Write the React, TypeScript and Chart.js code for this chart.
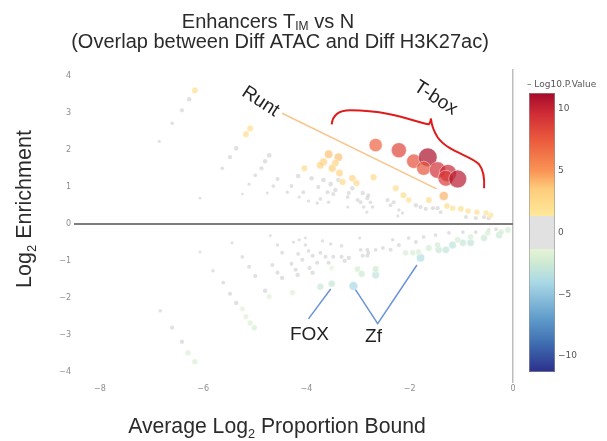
import React, { useEffect, useRef } from "react";
import { Chart, registerables } from "chart.js";

Chart.register(...registerables);

// [average log2 proportion bound, log2 enrichment, signed -log10 p-value]
const enrichedMotifs: [number, number, number][] = [
  [-6.16, 3.62, 2.2], [-6.27, 3.38, 1.0], [-6.41, 3.08, 0.9], [-6.60, 2.73, 0.6], [-6.85, 2.24, 0.3],
  [-5.09, 2.59, 2.3], [-5.17, 2.43, 2.3], [-5.36, 2.05, 1.1], [-5.48, 1.81, 0.9], [-5.63, 1.51, 0.6],
  [-6.06, 0.70, 0.1], [-4.72, 1.86, 1.1], [-4.80, 1.70, 1.0], [-4.87, 1.51, 0.9], [-4.99, 1.32, 0.6],
  [-5.11, 1.08, 0.3], [-5.24, 0.81, 0.1], [-4.56, 1.22, 0.8], [-4.64, 1.03, 0.6], [-4.76, 0.84, 0.3],
  [-4.04, 1.51, 2.3], [-4.16, 1.30, 1.1], [-4.29, 1.03, 0.7], [-4.37, 0.86, 0.4], [-3.90, 1.24, 1.1],
  [-4.06, 0.86, 0.7], [-4.14, 0.73, 0.4], [-3.96, 0.62, 0.4], [-3.79, 0.57, 0.5], [-3.67, 1.19, 1.2],
  [-3.77, 1.00, 0.9], [-3.73, 0.68, 0.6], [-3.59, 0.86, 0.9], [-3.53, 1.08, 1.1], [-3.57, 0.59, 0.5],
  [-3.44, 0.92, 1.0], [-3.48, 0.81, 0.8], [-3.38, 1.19, 1.1],
  [-3.57, 1.89, 3.8], [-3.38, 1.81, 3.8], [-3.67, 1.68, 3.3], [-3.44, 1.65, 3.0], [-3.73, 1.59, 3.1],
  [-3.50, 1.51, 3.3], [-3.36, 1.38, 3.0], [-3.30, 1.14, 2.5], [-3.11, 1.24, 2.8], [-3.03, 1.11, 2.5],
  [-3.18, 0.84, 0.9], [-3.20, 0.73, 0.7], [-3.11, 0.97, 1.0], [-3.01, 0.65, 0.8], [-2.91, 0.84, 1.0],
  [-2.95, 0.59, 0.7], [-2.82, 0.70, 0.9], [-3.20, 0.46, 0.3], [-2.89, 0.46, 0.5], [-2.83, 0.32, 0.3],
  [-2.80, 0.78, 0.8], [-2.76, 0.59, 0.6], [-2.72, 0.46, 0.4], [-2.43, 0.65, 0.9], [-2.31, 0.59, 0.8],
  [-2.37, 0.51, 0.6], [-1.88, 0.51, 1.0], [-1.79, 0.46, 0.9], [-1.69, 0.41, 0.8], [-1.55, 0.43, 0.9],
  [-1.46, 0.43, 0.9], [-1.40, 0.32, 0.7], [-2.21, 0.38, 0.5], [-2.14, 0.30, 0.4], [-2.23, 0.22, 0.3],
  [-0.91, 0.19, 0.8], [-0.72, 0.16, 0.9], [-0.56, 0.19, 0.9], [-0.47, 0.16, 1.0],
  [-2.70, 1.27, 2.5], [-2.27, 0.97, 2.3], [-2.12, 0.78, 2.3], [-2.02, 0.65, 2.0], [-1.63, 0.65, 2.3],
  [-1.34, 0.76, 4.2], [-1.28, 0.49, 2.2], [-1.17, 0.43, 2.0], [-1.01, 0.41, 2.2], [-0.87, 0.35, 2.0],
  [-0.70, 0.32, 2.0], [-0.52, 0.30, 1.9], [-0.43, 0.24, 1.8],
  [-2.66, 2.14, 7.2], [-2.21, 2.00, 8.5], [-1.92, 1.70, 8.0], [-1.65, 1.81, 11.0], [-1.73, 1.51, 7.8],
  [-1.46, 1.46, 9.5], [-1.26, 1.38, 10.0], [-1.30, 1.24, 9.0], [-1.07, 1.22, 10.5],
];

const depletedMotifs: [number, number, number][] = [
  [-6.83, -2.35, 0.6], [-6.60, -2.81, 0.9], [-6.41, -3.19, 1.0], [-6.29, -3.49, -1.8], [-6.16, -3.73, -1.9],
  [-6.06, -0.76, 0.3], [-5.81, -1.27, 0.5], [-5.61, -1.59, 0.7], [-5.48, -1.89, 0.9], [-5.36, -2.14, 1.1],
  [-5.24, -2.30, -1.6], [-5.17, -2.51, -1.7], [-5.09, -2.68, -1.8], [-5.01, -2.81, -2.0], [-5.44, -0.51, 0.3],
  [-5.24, -0.89, 0.6], [-5.11, -1.16, 0.8], [-4.99, -1.41, 0.9], [-4.80, -1.81, 1.1], [-4.72, -1.97, -1.6],
  [-4.70, -0.32, 0.2], [-4.56, -0.57, 0.5], [-4.47, -0.78, 0.7], [-4.66, -1.11, 0.8], [-4.56, -1.32, 0.9],
  [-4.47, -1.46, 1.0], [-4.25, -0.49, 0.4], [-4.16, -0.81, 0.7], [-4.08, -0.97, 0.8], [-4.29, -1.08, 0.8],
  [-4.21, -1.24, 0.9], [-4.17, -1.38, 1.0], [-4.27, -1.86, -1.7], [-4.14, -0.43, 0.3], [-4.02, -0.57, 0.5],
  [-3.96, -0.73, 0.6], [-3.88, -0.86, 0.8], [-3.94, -1.19, 0.9], [-3.88, -1.32, 1.0], [-3.79, -1.05, 0.9],
  [-3.73, -0.78, 0.7], [-3.63, -0.89, 0.8], [-3.57, -1.05, 0.9], [-3.51, -1.19, -1.4], [-3.69, -0.46, 0.4],
  [-3.53, -0.54, 0.5], [-3.32, -0.59, 0.6], [-3.48, -0.89, 0.8], [-3.32, -0.89, 0.8], [-3.26, -1.00, 0.9],
  [-3.18, -0.92, 0.9], [-2.97, -0.38, 0.3], [-4.02, -0.38, 0.2],
  [-2.91, -0.86, 0.8], [-2.82, -0.86, 0.8], [-2.95, -0.70, 0.7], [-2.82, -0.70, 0.7],
  [-2.80, -0.78, 0.7], [-2.66, -0.70, 0.6], [-2.52, -0.65, 0.7], [-2.37, -0.70, 0.8], [-2.21, -0.57, 0.8],
  [-2.33, -0.43, 0.5], [-2.02, -0.38, 0.6], [-1.88, -0.49, 0.8], [-1.73, -0.35, 0.6], [-1.50, -0.30, 0.6],
  [-1.24, -0.24, 0.6], [-0.97, -0.22, 0.6], [-0.72, -0.22, 0.7], [-0.47, -0.16, 0.6], [-0.33, -0.14, 0.6],
  [-3.73, -1.70, -2.6], [-3.51, -1.62, -2.8], [-3.09, -1.68, -4.0], [-3.01, -1.22, -2.2], [-2.93, -1.35, -2.6],
  [-2.66, -1.38, -3.2], [-2.66, -1.22, -2.5], [-1.79, -0.92, -3.6], [-2.08, -0.78, -2.0], [-1.94, -0.78, -2.0],
  [-1.83, -0.76, -2.0], [-1.63, -0.65, -2.3], [-1.44, -0.70, -2.8], [-1.30, -0.70, -3.0], [-1.17, -0.57, -3.2],
  [-0.97, -0.51, -2.8], [-0.82, -0.51, -3.0], [-0.56, -0.38, -2.6], [-0.27, -0.30, -2.8], [-0.10, -0.16, -2.2],
  [-1.46, -0.57, -2.2], [-1.07, -0.43, -2.2], [-0.82, -0.35, -2.0], [-0.49, -0.24, -2.0], [-0.23, -0.22, -2.1],
];

const colorbarTicks = [10, 5, 0, -5, -10];
const colorbarRange = [-11.3, 11.3];
const significanceBand = 1.3;

// annotation anchors, in data units
const runtLabel = [-4.89, 3.32];
const runtLine = [[-4.47, 3.0], [-1.48, 0.95]];
const tboxLabel = [-1.5, 3.41];
const braceLeft = [[-3.51, 2.70], [-3.48, 3.08], [-3.15, 3.08], [-2.37, 3.08], [-1.88, 2.76], [-1.63, 2.70], [-1.59, 2.76], [-1.59, 2.86]];
const braceRight = [[-1.59, 2.86], [-1.57, 2.59], [-1.46, 2.35], [-1.26, 1.95], [-0.82, 1.86], [-0.66, 1.62], [-0.54, 1.41], [-0.56, 0.97]];
const foxLabel = [-3.94, -3.0];
const foxLine = [[-3.96, -2.57], [-3.53, -1.76]];
const zfLabel = [-2.70, -3.05];
const zfLines = [[-3.05, -1.78], [-2.62, -2.70], [-1.86, -1.11]];

const posStops: [number, string][] = [[1.3, "#fee99b"], [3.5, "#fdcd7c"], [5, "#f99455"], [7.5, "#ea5a3d"], [9.5, "#d22f36"], [11.3, "#a50a2a"]];
const negStops: [number, string][] = [[1.3, "#e6f4d6"], [2.5, "#cde9d2"], [4, "#abd9e6"], [5, "#92c4dd"], [7, "#5f9bcb"], [9, "#3f6db0"], [11.3, "#2c2f8c"]];

function hexRgb(h: string) {
  return [parseInt(h.slice(1, 3), 16), parseInt(h.slice(3, 5), 16), parseInt(h.slice(5, 7), 16)];
}
function interp(stops: [number, string][], v: number) {
  if (v <= stops[0][0]) return hexRgb(stops[0][1]);
  for (let i = 1; i < stops.length; i++) {
    if (v <= stops[i][0]) {
      const a = hexRgb(stops[i - 1][1]);
      const b = hexRgb(stops[i][1]);
      const t = (v - stops[i - 1][0]) / (stops[i][0] - stops[i - 1][0]);
      return a.map((c, k) => Math.round(c + (b[k] - c) * t));
    }
  }
  return hexRgb(stops[stops.length - 1][1]);
}
function pColor(p: number, alpha: number) {
  if (Math.abs(p) < significanceBand) return `rgba(185,185,185,${alpha * 0.62})`;
  const c = p > 0 ? interp(posStops, p) : interp(negStops, -p);
  return `rgba(${c[0]},${c[1]},${c[2]},${alpha})`;
}
function barColor(v: number) {
  if (Math.abs(v) < significanceBand) return "#e1e1e1";
  const c = v > 0 ? interp(posStops, v) : interp(negStops, -v);
  return `rgb(${c[0]},${c[1]},${c[2]})`;
}
const radiusFor = (p: number) => (Math.abs(p) < significanceBand ? 1.3 + 0.9 * Math.abs(p) : 1.6 + 0.7 * Math.abs(p));

const SANS = '"Liberation Sans", Arial, sans-serif';
const SMALL = '"DejaVu Sans", Verdana, sans-serif';

function drawRich(ctx: CanvasRenderingContext2D, parts: [string, number][], x: number, y: number, size: number, align: "left" | "center") {
  const widths: number[] = [];
  let total = 0;
  parts.forEach(([t, sub]) => {
    ctx.font = `${sub ? size * 0.6 : size}px ${SANS}`;
    const w = ctx.measureText(t).width;
    widths.push(w);
    total += w;
  });
  let cx = align === "center" ? x - total / 2 : x;
  ctx.textAlign = "left";
  ctx.textBaseline = "alphabetic";
  parts.forEach(([t, sub], i) => {
    ctx.font = `${sub ? size * 0.6 : size}px ${SANS}`;
    ctx.fillText(t, cx, y + sub * size);
    cx += widths[i];
  });
}

const overlay = {
  id: "overlay",
  afterDatasetsDraw(chart: any) {
    const ctx: CanvasRenderingContext2D = chart.ctx;
    const xs = chart.scales.x;
    const ys = chart.scales.y;
    const P = (pt: number[]) => [xs.getPixelForValue(pt[0]), ys.getPixelForValue(pt[1])];
    ctx.save();
    const [r1, r2] = runtLine.map(P);
    ctx.strokeStyle = "#f8c68c";
    ctx.lineWidth = 1.5;
    ctx.beginPath();
    ctx.moveTo(r1[0], r1[1]);
    ctx.lineTo(r2[0], r2[1]);
    ctx.stroke();
    ctx.fillStyle = "#222";
    const rotText = (t: string, pt: number[], deg: number) => {
      const [px, py] = P(pt);
      ctx.save();
      ctx.translate(px, py);
      ctx.rotate((deg * Math.PI) / 180);
      ctx.font = `19px ${SANS}`;
      ctx.textAlign = "center";
      ctx.textBaseline = "middle";
      ctx.fillText(t, 0, 0);
      ctx.restore();
    };
    rotText("Runt", runtLabel, 33);
    rotText("T-box", tboxLabel, 33);
    ctx.strokeStyle = "#e01b1b";
    ctx.lineWidth = 2;
    const L = braceLeft.map(P);
    const R = braceRight.map(P);
    ctx.beginPath();
    ctx.moveTo(L[0][0], L[0][1]);
    ctx.quadraticCurveTo(L[1][0], L[1][1], L[2][0], L[2][1]);
    ctx.bezierCurveTo(L[3][0], L[3][1], L[4][0], L[4][1], L[5][0], L[5][1]);
    ctx.quadraticCurveTo(L[6][0], L[6][1], L[7][0], L[7][1]);
    ctx.quadraticCurveTo(R[1][0], R[1][1], R[2][0], R[2][1]);
    ctx.bezierCurveTo(R[3][0], R[3][1], R[4][0], R[4][1], R[5][0], R[5][1]);
    ctx.quadraticCurveTo(R[6][0], R[6][1], R[7][0], R[7][1]);
    ctx.stroke();
    ctx.strokeStyle = "#6a93dc";
    ctx.lineWidth = 1.5;
    const f = foxLine.map(P);
    ctx.beginPath();
    ctx.moveTo(f[0][0], f[0][1]);
    ctx.lineTo(f[1][0], f[1][1]);
    ctx.stroke();
    const z = zfLines.map(P);
    ctx.beginPath();
    ctx.moveTo(z[0][0], z[0][1]);
    ctx.lineTo(z[1][0], z[1][1]);
    ctx.lineTo(z[2][0], z[2][1]);
    ctx.stroke();
    ctx.font = `19px ${SANS}`;
    ctx.textAlign = "center";
    ctx.textBaseline = "middle";
    ctx.fillStyle = "#222";
    const fl = P(foxLabel);
    ctx.fillText("FOX", fl[0], fl[1]);
    const zl = P(zfLabel);
    ctx.fillText("Zf", zl[0], zl[1]);
    ctx.restore();
  },
  afterDraw(chart: any) {
    const ctx: CanvasRenderingContext2D = chart.ctx;
    ctx.save();
    ctx.fillStyle = "#2b2b2b";
    drawRich(ctx, [["Enhancers T", 0], ["IM", 0.12], [" vs N", 0]], 268, 28, 20, "center");
    drawRich(ctx, [["(Overlap between Diff ATAC and Diff H3K27ac)", 0]], 280, 48, 20, "center");
    drawRich(ctx, [["Average Log", 0], ["2", 0.22], [" Proportion Bound", 0]], 277, 433, 21.2, "center");
    ctx.save();
    ctx.translate(24, 209);
    ctx.rotate(-Math.PI / 2);
    drawRich(ctx, [["Log", 0], ["2", 0.22], [" Enrichment", 0]], 0, 7, 21.5, "center");
    ctx.restore();

    const top = 93, bottom = 372, left = 529, right = 555;
    const [vMin, vMax] = colorbarRange;
    for (let py = top; py < bottom; py++) {
      const v = vMax - ((py - top + 0.5) / (bottom - top)) * (vMax - vMin);
      ctx.fillStyle = barColor(v);
      ctx.fillRect(left, py, right - left, 1);
    }
    ctx.strokeStyle = "rgba(150,150,150,0.6)";
    ctx.lineWidth = 1;
    ctx.strokeRect(left + 0.5, top + 0.5, right - left - 1, bottom - top - 1);
    ctx.fillStyle = "#555";
    ctx.font = `9px ${SMALL}`;
    ctx.textAlign = "left";
    ctx.textBaseline = "middle";
    colorbarTicks.forEach((v) => {
      const py = top + ((vMax - v) / (vMax - vMin)) * (bottom - top);
      ctx.fillText(v < 0 ? "\u2212" + Math.abs(v) : String(v), right + 3, py);
    });
    ctx.fillText("\u2013 Log10.P.Value", 527, 85);
    ctx.restore();
  },
};

const minusFmt = (v: number | string) => {
  const n = Number(v);
  return n < 0 ? "\u2212" + Math.abs(n) : String(n);
};

export default function App() {
  const ref = useRef<HTMLCanvasElement>(null);
  useEffect(() => {
    if (!ref.current) return;
    const mk = (rows: [number, number, number][]) => ({
      data: rows.map((r) => ({ x: r[0], y: r[1] })),
      pointRadius: (c: any) => radiusFor(rows[c.dataIndex][2]),
      backgroundColor: (c: any) => pColor(rows[c.dataIndex][2], 0.7),
      borderColor: (c: any) => (Math.abs(rows[c.dataIndex][2]) < significanceBand ? "rgba(0,0,0,0)" : "rgba(255,255,255,0.45)"),
      borderWidth: 1,
    });
    const chart = new Chart(ref.current, {
      type: "scatter",
      data: { datasets: [mk(depletedMotifs), mk(enrichedMotifs)] as any },
      options: {
        animation: false,
        responsive: false,
        maintainAspectRatio: false,
        devicePixelRatio: 1,
        layout: { padding: { top: 69, right: 94, bottom: 0, left: 0 } },
        plugins: { legend: { display: false }, tooltip: { enabled: false }, title: { display: false } },
        scales: {
          x: {
            type: "linear",
            min: -8.5,
            max: 0,
            ticks: { stepSize: 2, includeBounds: false, color: "#8c8c8c", font: { family: SMALL, size: 8 }, padding: 1, callback: minusFmt },
            grid: {
              color: (c: any) => (c.tick && c.tick.value === 0 ? "#bdbdbd" : "rgba(0,0,0,0)"),
              lineWidth: 1.5,
              tickLength: 4,
            },
            border: { display: false },
            afterFit: (s: any) => { s.height = 62; },
          },
          y: {
            type: "linear",
            min: -4.2,
            max: 4.2,
            ticks: { stepSize: 1, includeBounds: false, color: "#8c8c8c", font: { family: SMALL, size: 8 }, padding: 3, callback: minusFmt },
            grid: {
              color: (c: any) => (c.tick && c.tick.value === 0 ? "#7d7d7d" : "rgba(0,0,0,0)"),
              lineWidth: 2,
              drawTicks: false,
            },
            border: { display: false },
            afterFit: (s: any) => { s.width = 74; },
          },
        },
      } as any,
      plugins: [overlay],
    });
    return () => chart.destroy();
  }, []);
  return (
    <div style={{ position: "fixed", left: 0, top: 0, width: 607, height: 441, background: "#fff" }}>
      <canvas ref={ref} width={607} height={441} />
    </div>
  );
}
